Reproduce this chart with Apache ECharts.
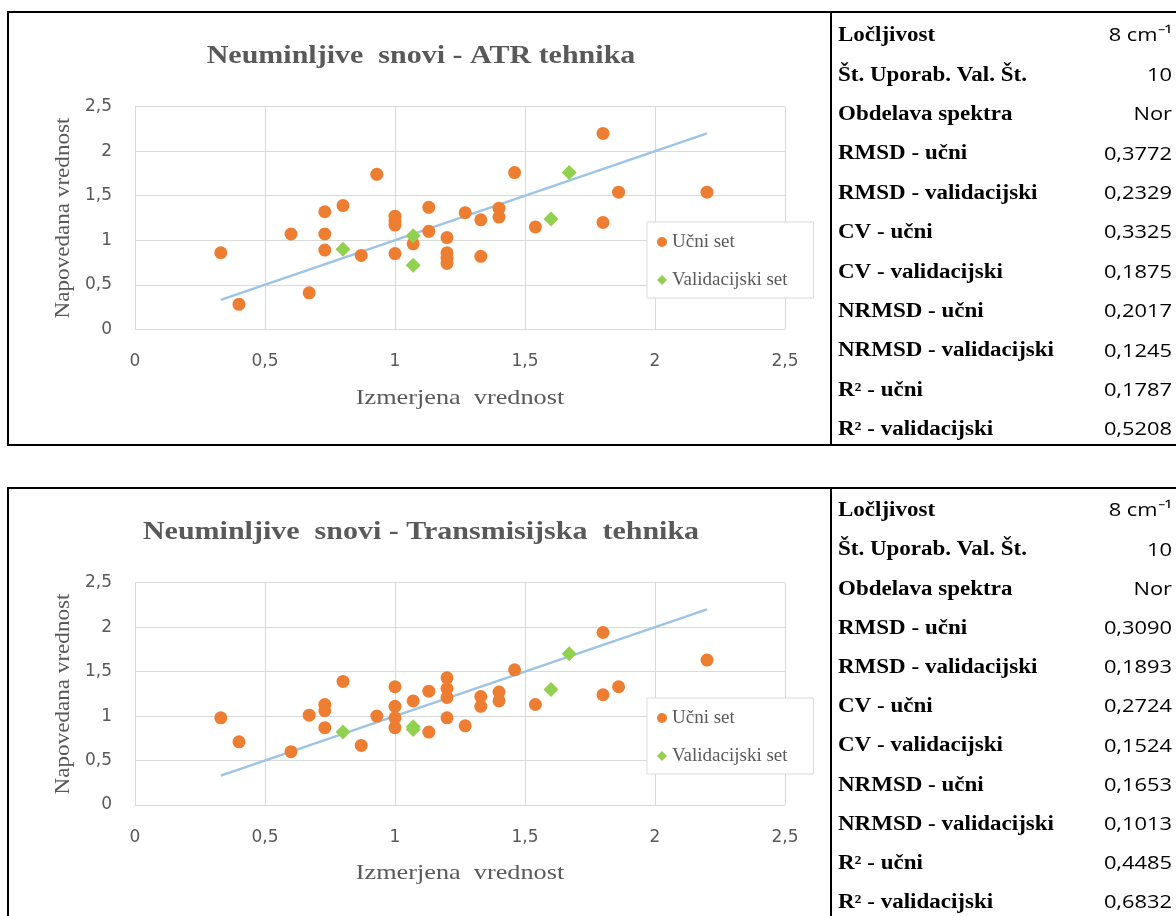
<!DOCTYPE html>
<html>
<head>
<meta charset="utf-8">
<script src="https://cdn.jsdelivr.net/npm/echarts@6/dist/echarts.min.js"></script>
<style>
html,body{margin:0;padding:0;background:#fff;}
#chart{width:1176px;height:916px;}
</style>
</head>
<body>
<div id="chart"></div>
<script>
// ---------- data ----------
const titles = ['Neuminljive  snovi - ATR tehnika', 'Neuminljive  snovi - Transmisijska  tehnika'];
const xAxisName = 'Izmerjena  vrednost';
const yAxisName = 'Napovedana vrednost';
const seriesNames = ['Učni set', 'Validacijski set'];

// measured values (shared by both techniques)
const ucniX = [0.33,0.40,0.60,0.67,0.73,0.73,0.73,0.80,0.87,0.93,1.00,1.00,1.00,1.00,1.07,1.13,1.13,1.20,1.20,1.20,1.20,1.27,1.33,1.33,1.40,1.40,1.46,1.54,1.80,1.80,1.86,2.20];
const ucniAtrY = [0.86,0.28,1.07,0.41,1.32,1.07,0.89,1.39,0.83,1.74,1.27,1.22,1.17,0.85,0.96,1.37,1.10,1.03,0.86,0.80,0.74,1.31,1.23,0.82,1.36,1.26,1.76,1.15,2.20,1.20,1.54,1.54];
const ucniTransY = [0.98,0.71,0.60,1.01,1.13,1.06,0.87,1.39,0.67,1.00,1.33,1.11,0.98,0.87,1.17,1.28,0.82,1.43,1.31,1.21,0.98,0.89,1.22,1.11,1.27,1.17,1.52,1.13,1.94,1.24,1.33,1.63];

const validX = [0.80,1.07,1.07,1.60,1.67];
const validAtrY = [0.90,1.05,0.72,1.24,1.76];
const validTransY = [0.82,0.88,0.85,1.30,1.70];

const refLineX = [0.33, 2.20];   // y = x reference line

const axisTicks = [0, 0.5, 1, 1.5, 2, 2.5];

const tableLabels = ['Ločljivost','Št. Uporab. Val. Št.','Obdelava spektra','RMSD - učni','RMSD - validacijski','CV - učni','CV - validacijski','NRMSD - učni','NRMSD - validacijski','R² - učni','R² - validacijski'];
const atrValues = ['8 cm⁻¹','10','Nor','0,3772','0,2329','0,3325','0,1875','0,2017','0,1245','0,1787','0,5208'];
const transValues = ['8 cm⁻¹','10','Nor','0,3090','0,1893','0,2724','0,1524','0,1653','0,1013','0,4485','0,6832'];

// ---------- layout / style ----------
const GRAY = '#595959', GRID = '#D9D9D9';
const ORANGE = '#ED7D31', GREEN = '#92D050', LINE = '#9DC3E6';
const panels = [
  {top: 12, gridTop: 106.7, gridH: 222.6, titleY: 57, xNameY: 398, yNameY: 218, rowY0: 36, rowStep: 39.4, values: atrValues, ucniY: ucniAtrY, validY: validAtrY, legendTop: 222},
  {top: 488, gridTop: 582.7, gridH: 222.3, titleY: 533, xNameY: 873, yNameY: 694, rowY0: 511, rowStep: 39.2, values: transValues, ucniY: ucniTransY, validY: validTransY, legendTop: 698}
];

const fmt = v => String(v).replace('.', ',');
const pairs = (xs, ys) => xs.map((x, i) => [x, ys[i]]);

const grids = [], xAxes = [], yAxes = [], series = [], legends = [], graphics = [];

panels.forEach((p, k) => {
  grids.push({left: 135, top: p.gridTop, width: 650, height: p.gridH, containLabel: false});
  const axisCommon = {
    gridIndex: k, type: 'value',
    min: axisTicks[0], max: axisTicks[axisTicks.length - 1], interval: axisTicks[1] - axisTicks[0],
    axisLine: {show: true, lineStyle: {color: GRID, width: 1}},
    axisTick: {show: false},
    splitLine: {show: true, lineStyle: {color: GRID, width: 1}},
  };
  xAxes.push(Object.assign({}, axisCommon, {
    axisLabel: {margin: 24, color: GRAY, fontSize: 17, fontFamily: 'DejaVu Sans', formatter: fmt}
  }));
  yAxes.push(Object.assign({}, axisCommon, {
    axisLabel: {margin: 23, color: GRAY, fontSize: 17, fontFamily: 'DejaVu Sans', formatter: fmt}
  }));

  series.push({
    name: 'ref' + k, type: 'line', xAxisIndex: k, yAxisIndex: k,
    data: refLineX.map(v => [v, v]), symbol: 'none', silent: true, z: 1,
    lineStyle: {color: LINE, width: 2.5}
  });
  series.push({
    name: seriesNames[0], type: 'scatter', xAxisIndex: k, yAxisIndex: k,
    data: pairs(ucniX, p.ucniY), symbol: 'circle', symbolSize: 13, z: 3,
    itemStyle: {color: ORANGE, opacity: 1}
  });
  series.push({
    name: seriesNames[1], type: 'scatter', xAxisIndex: k, yAxisIndex: k,
    data: pairs(validX, p.validY), symbol: 'diamond', symbolSize: 15, z: 4,
    itemStyle: {color: GREEN, opacity: 1}
  });

  legends.push({
    left: 647, top: p.legendTop, orient: 'vertical',
    itemWidth: 10, itemHeight: 10, itemGap: 18,
    padding: [10, 26, 8, 10],
    backgroundColor: '#fff', borderColor: GRID, borderWidth: 1,
    textStyle: {fontFamily: 'Liberation Serif', fontSize: 19, color: GRAY, lineHeight: 20},
    data: [{name: seriesNames[0], icon: 'circle'}, {name: seriesNames[1], icon: 'diamond'}],
    z: 10
  });

  // frame
  graphics.push({type: 'rect', shape: {x: 8, y: p.top, width: 1200, height: k === 0 ? 433 : 460},
    style: {fill: 'none', stroke: '#000', lineWidth: 2}, z: 0, silent: true});
  graphics.push({type: 'line', shape: {x1: 831, y1: p.top, x2: 831, y2: p.top + (k === 0 ? 433 : 460)},
    style: {stroke: '#000', lineWidth: 2}, z: 0, silent: true});

  // title and axis names
  graphics.push({type: 'text', x: 421, y: p.titleY, scaleX: 1.2, silent: true, z: 5,
    style: {text: titles[k], textAlign: 'center', textVerticalAlign: 'middle',
      font: 'bold 25px "Liberation Serif"', fill: GRAY}});
  graphics.push({type: 'text', x: 460, y: p.xNameY, scaleX: 1.25, silent: true, z: 5,
    style: {text: xAxisName, textAlign: 'center', textVerticalAlign: 'middle',
      font: '21px "Liberation Serif"', fill: GRAY}});
  graphics.push({type: 'text', x: 63, y: p.yNameY, rotation: Math.PI / 2, scaleX: 1.1, silent: true, z: 5,
    style: {text: yAxisName, textAlign: 'center', textVerticalAlign: 'middle',
      font: '21px "Liberation Serif"', fill: GRAY}});

  // table
  tableLabels.forEach((lab, i) => {
    const y = p.rowY0 + i * p.rowStep;
    graphics.push({type: 'text', x: 838, y: y, scaleX: 1.15, silent: true, z: 5,
      style: {text: lab, textAlign: 'left', textVerticalAlign: 'middle',
        font: 'bold 20px "Liberation Serif"', fill: '#000'}});
    graphics.push({type: 'text', x: 1172, y: y, scaleX: 1.15, silent: true, z: 5,
      style: {text: p.values[i], textAlign: 'right', textVerticalAlign: 'middle',
        font: '19px "Open Sans"', fill: '#000'}});
  });
});

const chart = echarts.init(document.getElementById('chart'), null, {renderer: 'canvas'});
chart.setOption({
  animation: false,
  backgroundColor: '#fff',
  grid: grids, xAxis: xAxes, yAxis: yAxes,
  legend: legends,
  series: series,
  graphic: {elements: graphics}
});
</script>
</body>
</html>
